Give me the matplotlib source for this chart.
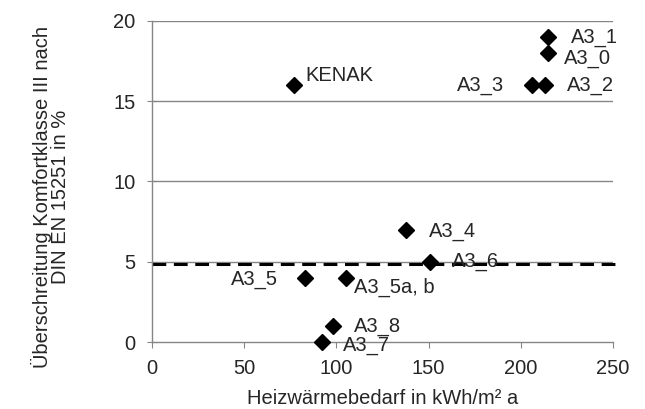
import matplotlib
matplotlib.use("Agg")
import matplotlib.pyplot as plt

plt.rcParams['font.family'] = ['Liberation Sans', 'DejaVu Sans']

labels = ["KENAK", "A3_1", "A3_0", "A3_3", "A3_2", "A3_4", "A3_6",
          "A3_5", "A3_5a, b", "A3_8", "A3_7"]
heat_demand = [77, 215, 215, 206, 213, 138, 151, 83, 105, 98, 92]
exceedance = [16, 19, 18, 16, 16, 7, 5, 4, 4, 1, 0]
limit_value = 4.85

# label placement (pixel offsets, up positive, horizontal alignment)
offsets = {
    "KENAK": (11, 10, "left"),
    "A3_1": (22, 0, "left"),
    "A3_0": (15, -5, "left"),
    "A3_3": (-28, 0, "right"),
    "A3_2": (22, 0, "left"),
    "A3_4": (22, -2, "left"),
    "A3_6": (21, 0, "left"),
    "A3_5": (-27, -2, "right"),
    "A3_5a, b": (8, -10, "left"),
    "A3_8": (21, -1, "left"),
    "A3_7": (21, -3, "left"),
}

fig = plt.figure(figsize=(6.45, 4.09), dpi=100)
ax = fig.add_axes([0.2357, 0.1638, 0.7147, 0.7849])

gray = "#868686"
txt = "#262626"
fs = 14.5

ax.set_xlim(0, 250)
ax.set_ylim(0, 20)
ax.set_yticks([0, 5, 10, 15, 20])
ax.set_xticks([0, 50, 100, 150, 200, 250])
for y in [5, 10, 15, 20]:
    ax.axhline(y, color=gray, lw=1.0, zorder=1)

ax.plot([0, 251.5], [limit_value, limit_value], color="black", lw=2.2,
        ls=(0, (4.5, 2.5)), zorder=2, clip_on=False)

ax.plot(heat_demand, exceedance, ls="none", marker="D", color="black",
        markersize=8.5, zorder=3, clip_on=False)

for name, x, y in zip(labels, heat_demand, exceedance):
    dx, dy, ha = offsets[name]
    ax.annotate(name, (x, y), xytext=(dx, dy), textcoords="offset pixels",
                ha=ha, va="center", fontsize=fs, color=txt, zorder=4)

for s in ["top", "right"]:
    ax.spines[s].set_visible(False)
for s in ["left", "bottom"]:
    ax.spines[s].set_color(gray)
    ax.spines[s].set_linewidth(1.0)

ax.tick_params(axis="y", direction="inout", length=7, color=gray,
               labelsize=fs, labelcolor=txt, pad=8.5)
ax.tick_params(axis="x", direction="out", length=4, color=gray,
               labelsize=fs, labelcolor=txt, pad=8.5)

ax.set_xlabel("Heizwärmebedarf in kWh/m² a", fontsize=fs, color=txt,
              labelpad=8)
ax.set_ylabel("Überschreitung Komfortklasse III nach\nDIN EN 15251 in %",
              fontsize=fs, color=txt, linespacing=0.95)
ax.yaxis.set_label_coords(-0.178, 0.452)

fig.savefig("out.png", dpi=100)
